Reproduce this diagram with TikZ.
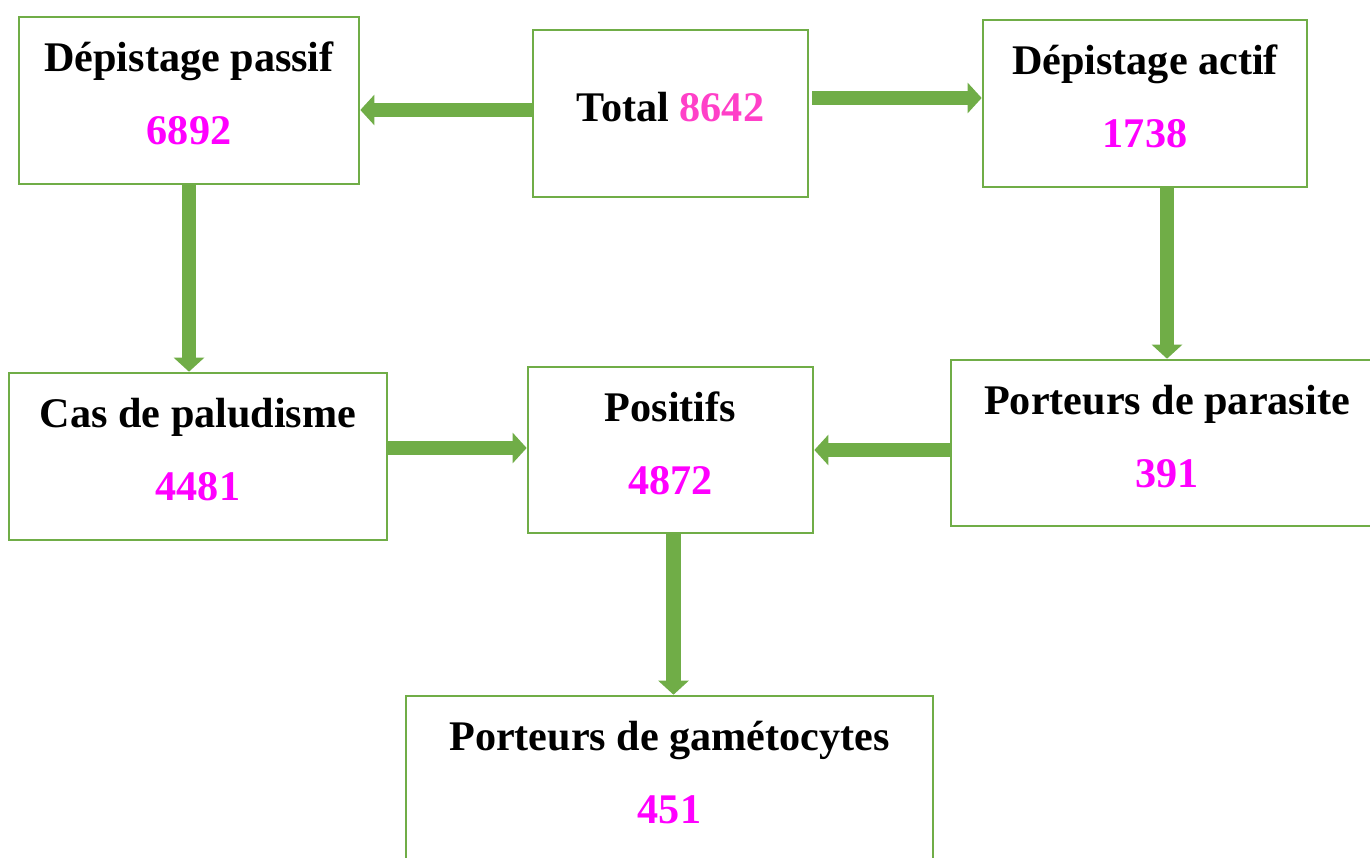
\documentclass[tikz,border=0pt]{standalone}
\usepackage{fontspec}
\setmainfont{Liberation Serif}
\usepackage{tikz}
\usetikzlibrary{positioning,calc,arrows.meta}
\usepackage{xcolor}
\definecolor{boxgreen}{RGB}{112,173,71}
\definecolor{nummag}{RGB}{255,0,255}
\definecolor{numpink}{RGB}{255,64,200}
\newcommand{\num}[1]{\textcolor{nummag}{#1}}

\begin{document}
\begin{tikzpicture}[x=0.01cm,y=-0.01cm,
    font=\fontsize{12}{14}\selectfont\bfseries,
    count box/.style={rectangle,draw=boxgreen,line width=0.7pt,align=center,
      minimum height=1.67cm,text depth=4pt,inner sep=0pt},
    flow/.style={draw=boxgreen,line width=4pt,
      -{Triangle[width=8.5pt,length=4pt]}}]

    \useasboundingbox (0,0) rectangle (1370,858);
    \clip (0,0) rectangle (1370,858);

    \node[count box,minimum width=3.40cm] (passif) at (189,100.5) {D\'epistage passif\\[6.8pt]\num{6892}};
    \node[count box,minimum width=2.75cm] (total) at (670.5,113.5) {Total \textcolor{numpink}{8642}};
    \node[count box,minimum width=3.24cm] (actif) at (1145,103.5) {D\'epistage actif\\[6.8pt]\num{1738}};
    \node[count box,minimum width=3.78cm] (cas) at (198,456.5) {Cas de paludisme\\[6.8pt]\num{4481}};
    \node[count box,minimum width=2.85cm,minimum height=1.66cm] (positifs) at (670.5,450) {Positifs\\[6.8pt]\num{4872}};
    \node[count box,minimum width=4.32cm,minimum height=1.66cm] (parasite) at (1167,443) {Porteurs de parasite\\[6.8pt]\num{391}};
    \node[count box,minimum width=5.27cm] (gameto) at (669.5,779.5) {Porteurs de gam\'etocytes\\[6.8pt]\num{451}};

    \coordinate (t1) at ($(total.west)+(0,-3.5)$);
    \coordinate (t2) at ($(total.east)+(3,-15.5)$);
    \coordinate (c1) at ($(cas.east)+(0,-8.5)$);
    \coordinate (p1) at ($(positifs.south)+(3,0)$);

    \path
    (t1) edge [flow] (t1 -| passif.east)
    (t2) edge [flow] (t2 -| actif.west)
    (passif.south) edge [flow] (passif.south |- cas.north)
    (actif.south -| parasite.north) edge [flow] (parasite.north)
    (c1) edge [flow] (c1 -| positifs.west)
    (parasite.west |- positifs.east) edge [flow] (positifs.east)
    (p1) edge [flow] (p1 |- gameto.north);
  \end{tikzpicture}
\end{document}
